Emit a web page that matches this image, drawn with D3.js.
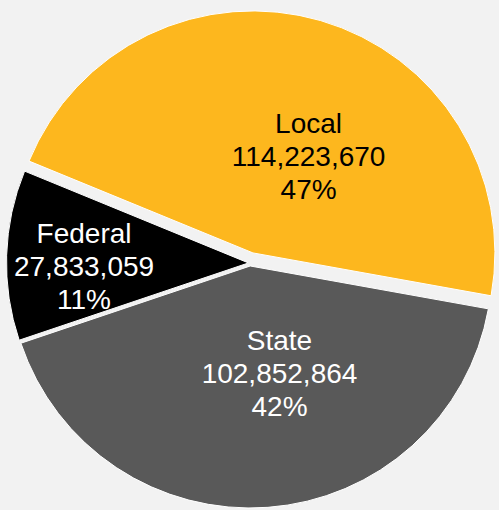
<!DOCTYPE html>
<html>
<head>
<meta charset="utf-8">
<script src="https://cdn.jsdelivr.net/npm/d3@7"></script>
<style>
  html, body { margin: 0; padding: 0; background: #F2F2F2; }
  svg { display: block; }
</style>
</head>
<body>
<svg id="chart" width="499" height="510"></svg>
<script>
// Funding by source
const categories = ["Local", "State", "Federal"];
const values = [114223670, 102852864, 27833059];

// Styling per category
const fills = { Local: "#FDB71E", State: "#595959", Federal: "#000000" };
const textColors = { Local: "#000000", State: "#FFFFFF", Federal: "#FFFFFF" };
const explode = { Local: 10.5, State: 3, Federal: 1.5 };
// label anchor in polar form (radius, compass degrees) around the pie centre
const labelPolar = {
  Local: [122, 28.7],
  State: [114, 165],
  Federal: [166, 269]
};

const width = 499, height = 510;
const cx = 250, cy = 263, radius = 242;
const startDeg = 292.3;
const fontSize = 28, lineGap = 33;

const svg = d3.select("#chart");
svg.append("rect").attr("width", width).attr("height", height).attr("fill", "#F2F2F2");

const total = d3.sum(values);
const fmtNum = d3.format(",");
const fmtPct = d3.format(".0%");

const data = categories.map((c, i) => ({ name: c, value: values[i] }));

const start = startDeg * Math.PI / 180;
const pie = d3.pie().sort(null).value(d => d.value)
  .startAngle(start).endAngle(start + 2 * Math.PI);
const arc = d3.arc().innerRadius(0).outerRadius(radius);

const g = svg.append("g").attr("transform", `translate(${cx},${cy})`);

const arcs = pie(data);

g.selectAll("path.slice")
  .data(arcs)
  .join("path")
  .attr("class", "slice")
  .attr("d", arc)
  .attr("fill", d => fills[d.data.name])
  .attr("stroke", "#FFFFFF")
  .attr("stroke-width", 1)
  .attr("transform", d => {
    const mid = (d.startAngle + d.endAngle) / 2;
    const e = explode[d.data.name];
    return `translate(${e * Math.sin(mid)},${-e * Math.cos(mid)})`;
  });

const labels = g.selectAll("text.label")
  .data(arcs)
  .join("text")
  .attr("class", "label")
  .attr("text-anchor", "middle")
  .attr("font-family", "'Liberation Sans', Arial, sans-serif")
  .attr("font-size", fontSize)
  .attr("fill", d => textColors[d.data.name])
  .attr("transform", d => {
    const [r, deg] = labelPolar[d.data.name];
    const a = deg * Math.PI / 180;
    return `translate(${r * Math.sin(a)},${-r * Math.cos(a)})`;
  });

labels.each(function(d) {
  const t = d3.select(this);
  const lines = [d.data.name, fmtNum(d.data.value), fmtPct(d.data.value / total)];
  lines.forEach((txt, i) => {
    t.append("tspan")
      .attr("x", 0)
      .attr("y", 10 + (i - 1) * lineGap)
      .text(txt);
  });
});
</script>
</body>
</html>
